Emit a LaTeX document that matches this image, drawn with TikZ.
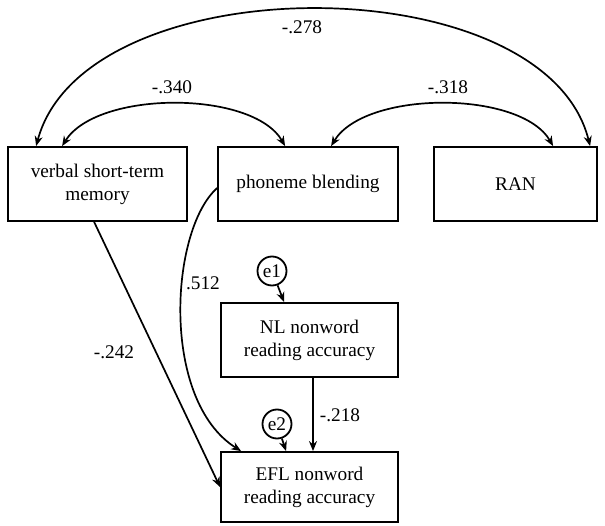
\documentclass[tikz,border=0pt]{standalone}
\usepackage{fontspec}
\setmainfont{Liberation Serif}
\usetikzlibrary{arrows.meta,calc}
\begin{document}
\begin{tikzpicture}[x=1pt,y=-1pt,
  every node/.style={font=\rmfamily\fontsize{19.3}{23}\selectfont, text=black},
  var/.style={draw, line width=1.8pt, align=center, minimum height=74pt, inner sep=0pt},
  err/.style={draw, circle, line width=1.8pt, minimum size=29pt, inner sep=0pt},
  path/.style={line width=1.7pt, -{Stealth[length=10pt,width=8pt]}},
  cov/.style={line width=1.7pt, {Stealth[length=10pt,width=8pt]}-{Stealth[length=10pt,width=8pt]}},
  coef/.style={inner sep=1pt}]
\useasboundingbox (0,0) rectangle (605,526);

% observed variables
\node[var, minimum width=179pt] (vstm) at (97.5,184) {verbal short-term\\memory};
\node[var, minimum width=180pt] (pb)   at (308,184)  {phoneme blending};
\node[var, minimum width=163pt] (ran)  at (515.5,184) {RAN};
\node[var, minimum width=177pt] (nl)   at (309.5,340) {NL nonword\\reading accuracy};
\node[var, minimum width=177pt, minimum height=70pt] (efl) at (309.5,487) {EFL nonword\\reading accuracy};

% residual terms
\node[err] (e1) at (272,271) {e1};
\node[err] (e2) at (277,424) {e2};

% anchor points on the box edges
\coordinate (vA) at ($(vstm.north west)+(29,0)$);
\coordinate (vB) at ($(vstm.north west)+(55,0)$);
\coordinate (pA) at ($(pb.north west)+(68,0)$);
\coordinate (pB) at ($(pb.north west)+(114,0)$);
\coordinate (rA) at ($(ran.north west)+(120,0)$);
\coordinate (rB) at ($(ran.north west)+(157,0)$);
\coordinate (pL) at ($(pb.north west)+(0,42)$);
\coordinate (vD) at ($(vstm.south west)+(87,0)$);
\coordinate (eT) at ($(efl.north west)+(21,0)$);
\coordinate (eL) at ($(efl.north west)+(0,36)$);

% correlations among the predictors
\draw[cov] (vA) .. controls (85,-36) and (545,-36) .. (rB);
\draw[cov] (vB) .. controls (97,90) and (253,90) .. (pA);
\draw[cov] (pB) .. controls (365,90) and (521,90) .. (rA);

% directed paths
\draw[path] (pL) .. controls (170,230) and (160,400) .. (eT);
\draw[path] (vD) -- (eL);
\draw[path] (nl.south -| 313,0) -- (efl.north -| 313,0);
\draw[path] (e1) -- ($(nl.north west)+(64,0)$);
\draw[path] (e2) -- ($(efl.north west)+(66,0)$);

% coefficients
\node[coef] (c278) at (302,27)  {-.278};
\node[coef] (c340) at (172,87)  {-.340};
\node[coef] (c318) at (448,87)  {-.318};
\node[coef] (c512) at (203,283) {.512};
\node[coef] (c242) at (114,352) {-.242};
\node[coef] (c218) at (340,415) {-.218};
\end{tikzpicture}
\end{document}
